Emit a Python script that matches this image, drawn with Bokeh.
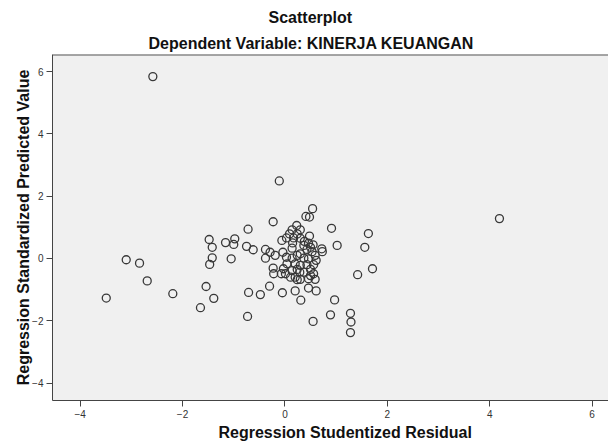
from bokeh.plotting import figure
from bokeh.models import Range1d, Title, FixedTicker, Span
from bokeh.embed import file_html
from bokeh.resources import INLINE

# Regression Studentized Residual (x) and Regression Standardized Predicted Value (y)
residual = [-2.58, 4.19, -3.49, -3.10, -2.84, -2.69, -2.19, -1.65, -1.39, -1.54,
            -1.48, -1.42, -1.16, -1.42, -1.47, -1.05, -0.98, -1.00, -0.75, -0.62,
            -0.72, -0.23, -0.11, -0.71, -0.48, -0.05, 0.20, 0.46, 0.61, 0.31,
            0.97, -0.73, 0.55, 0.89, 1.28, 1.29, 1.28, 1.42, -0.30, 0.91,
            1.63, 1.02, 1.56, 0.73, 1.71, 0.54, 0.41, 0.48, 0.48, 0.23,
            0.14, 0.30, 0.09, 0.24, 0.03, 0.17, 0.30, -0.06, 0.15, 0.38,
            0.46, 0.55, 0.37, 0.50, 0.72, -0.38, -0.29, -0.19, -0.38, -0.04,
            0.14, 0.30, 0.43, 0.53, 0.03, 0.14, 0.24, 0.37, 0.46, 0.59,
            0.61, 0.04, 0.20, 0.30, 0.43, 0.56, -0.23, -0.22, -0.03, 0.01,
            0.14, 0.24, 0.29, 0.37, 0.50, 0.56, 0.59, 0.50, 0.11, 0.20,
            0.24, 0.46, 0.30, -0.07]
predicted = [5.84, 1.28, -1.27, -0.04, -0.15, -0.72, -1.13, -1.58, -1.28, -0.90,
             0.61, 0.36, 0.51, 0.02, -0.19, -0.01, 0.63, 0.45, 0.39, 0.28,
             0.94, 1.18, 2.49, -1.09, -1.16, -1.10, -1.04, -0.95, -1.04, -1.34,
             -1.33, -1.86, -2.02, -1.81, -1.76, -2.04, -2.38, -0.52, -0.89, 0.97,
             0.80, 0.42, 0.36, 0.22, -0.33, 1.60, 1.35, 1.33, 0.72, 1.06,
             0.92, 0.92, 0.79, 0.79, 0.66, 0.66, 0.65, 0.58, 0.50, 0.55,
             0.49, 0.44, 0.42, 0.36, 0.31, 0.29, 0.20, 0.10, 0.01, 0.20,
             0.33, 0.15, 0.29, 0.22, 0.04, 0.01, 0.10, 0.01, -0.01, 0.10,
             -0.06, -0.17, -0.17, -0.22, -0.20, -0.20, -0.31, -0.49, -0.33, -0.49,
             -0.39, -0.35, -0.44, -0.44, -0.35, -0.49, -0.67, -0.55, -0.60, -0.60,
             -0.68, -0.65, -0.67, -0.49]

x_ticks = [-4, -2, 0, 2, 4, 6]
y_ticks = [-4, -2, 0, 2, 4, 6]

title_text = "Scatterplot"
subtitle_text = "Dependent Variable: KINERJA KEUANGAN"
x_label = "Regression Studentized Residual"
y_label = "Regression Standardized Predicted Value"

FONT = "Liberation Sans"
Y_TOP = 6.55

p = figure(width=608, height=445, output_backend="svg", toolbar_location=None,
           x_range=Range1d(-4.54, 6.32), y_range=Range1d(-4.56, Y_TOP),
           min_border_left=52, min_border_right=0, min_border_top=54,
           min_border_bottom=45, title=None)

p.background_fill_color = "#F0F0F0"
p.border_fill_color = "white"
p.outline_line_color = None
p.xgrid.visible = False
p.ygrid.visible = False

# top border of the plot area (right side is cut off in the original)
p.add_layout(Span(location=Y_TOP, dimension="width", line_color="#555555",
                  line_width=2))

p.scatter(residual, predicted, marker="circle", size=8, fill_color=None,
          line_color="#383838", line_width=1.3)

for ax, ticks in ((p.xaxis, x_ticks), (p.yaxis, y_ticks)):
    ax.ticker = FixedTicker(ticks=ticks)
    ax.axis_line_color = "#444444"
    ax.axis_line_width = 1
    ax.major_tick_line_color = "#444444"
    ax.major_tick_out = 6
    ax.major_tick_in = 0
    ax.minor_tick_line_color = None
    ax.major_label_text_font = FONT
    ax.major_label_text_font_size = "10px"
    ax.major_label_text_color = "#333333"
    ax.major_label_standoff = 3

p.yaxis.axis_label = y_label
p.yaxis.axis_label_text_font = FONT
p.yaxis.axis_label_text_font_size = "16px"
p.yaxis.axis_label_text_font_style = "bold"
p.yaxis.axis_label_text_color = "#111111"
p.yaxis.axis_label_standoff = -3

# x-axis title, placed below the axis (SPSS centres it on a wider axis)
p.add_layout(Title(text=x_label, align="left", offset=166, standoff=2,
                   text_font=FONT, text_font_size="16px", text_font_style="bold",
                   text_color="#111111"), "below")

p.add_layout(Title(text=subtitle_text, align="left", offset=96, standoff=5,
                   text_font=FONT, text_font_size="16px", text_font_style="bold",
                   text_color="#111111", text_line_height=0.9), "above")
p.add_layout(Title(text=title_text, align="left", offset=216, standoff=9,
                   text_font=FONT, text_font_size="16px", text_font_style="bold",
                   text_color="#111111", text_line_height=0.9), "above")

open("out.html", "w").write(file_html(p, INLINE))
